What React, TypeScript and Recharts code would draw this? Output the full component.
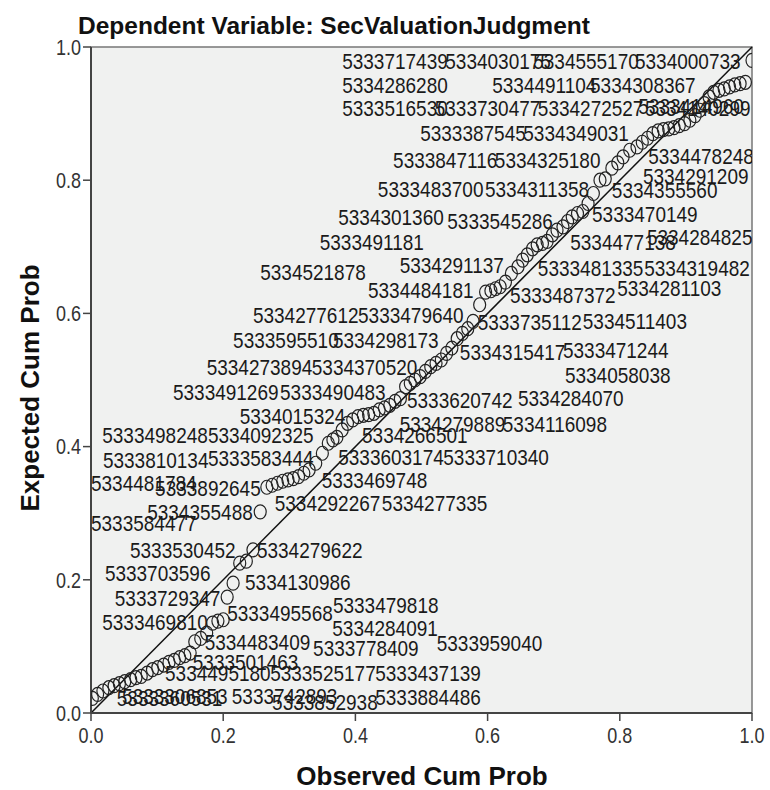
import React from "react";
import {
  ScatterChart,
  Scatter,
  XAxis,
  YAxis,
  ReferenceArea,
  ReferenceLine,
} from "recharts";

// P-P plot points (observed vs expected cumulative probability)
const observedCumProb = [
  0.002, 0.01, 0.018, 0.027, 0.035, 0.043, 0.051, 0.06, 0.068, 0.076, 0.085, 0.093, 0.101, 0.11, 0.118, 0.126, 0.134, 0.142, 0.15,
  0.157, 0.166, 0.175, 0.184, 0.192, 0.2, 0.206, 0.215, 0.225, 0.235, 0.245, 0.256,
  0.266, 0.274, 0.282, 0.29, 0.298, 0.306, 0.314, 0.322, 0.33, 0.34,
  0.35, 0.359, 0.366, 0.372, 0.38, 0.388, 0.396, 0.404, 0.412, 0.42,
  0.428, 0.436, 0.444, 0.452, 0.46, 0.468, 0.476, 0.483, 0.49, 0.498,
  0.506, 0.514, 0.522, 0.53, 0.538, 0.546, 0.554, 0.562, 0.57, 0.578,
  0.588, 0.597, 0.605, 0.612, 0.619, 0.627, 0.636, 0.646, 0.653, 0.66,
  0.668, 0.675, 0.683, 0.69, 0.698, 0.705, 0.714, 0.721, 0.728, 0.736,
  0.744, 0.752, 0.76, 0.77, 0.778, 0.788, 0.797, 0.805, 0.815, 0.826,
  0.834, 0.842, 0.85, 0.858, 0.866, 0.874, 0.882, 0.89, 0.898, 0.906,
  0.914, 0.921, 0.928, 0.935, 0.942, 0.95, 0.958, 0.966, 0.974, 0.982,
  0.99, 1.0,
];
const expectedCumProb = [
  0.022, 0.028, 0.033, 0.038, 0.041, 0.044, 0.047, 0.05, 0.053, 0.055, 0.06, 0.065, 0.068, 0.072, 0.076, 0.079, 0.083, 0.086, 0.09,
  0.107, 0.112, 0.12, 0.135, 0.138, 0.14, 0.174, 0.195, 0.225, 0.228, 0.245, 0.302,
  0.339, 0.342, 0.345, 0.348, 0.35, 0.352, 0.355, 0.36, 0.365, 0.375,
  0.39, 0.405, 0.41, 0.414, 0.425, 0.435, 0.44, 0.445, 0.447, 0.448,
  0.45, 0.455, 0.458, 0.462, 0.468, 0.472, 0.49, 0.495, 0.5, 0.505,
  0.513, 0.52, 0.525, 0.53, 0.54, 0.548, 0.562, 0.57, 0.577, 0.588,
  0.613, 0.632, 0.634, 0.637, 0.64, 0.647, 0.66, 0.67, 0.68, 0.688,
  0.697, 0.703, 0.705, 0.708, 0.718, 0.725, 0.73, 0.738, 0.745, 0.75,
  0.753, 0.765, 0.78, 0.8, 0.802, 0.818, 0.826, 0.835, 0.845, 0.85,
  0.857, 0.863, 0.87, 0.874, 0.876, 0.877, 0.879, 0.882, 0.885, 0.89,
  0.897, 0.905, 0.915, 0.925, 0.932, 0.935, 0.937, 0.94, 0.943, 0.945,
  0.947, 0.98,
];

// case id labels and where their text starts (data units)
const caseIds = [
  "5333717439", "5334030175", "5334555170", "5334000733",
  "5334286280", "5334491104", "5334308367",
  "5333516530", "5333730477", "5334272527", "5333414960", "5334140299",
  "5333387545", "5334349031",
  "5333847116", "5334325180", "5334478248", "5334291209",
  "5333483700", "5334311358", "5334355560",
  "5334301360", "5333545286", "5333470149",
  "5333491181", "5334477138", "5334284825",
  "5334521878", "5334291137", "5333481335", "5334319482",
  "5334484181", "5333487372", "5334281103",
  "5334277612", "5333479640", "5333735112", "5334511403",
  "5333595510", "5334298173", "5334315417", "5333471244",
  "5334273894", "5334370520", "5334058038",
  "5333491269", "5333490483", "5333620742", "5334284070",
  "5334015324", "5334279889", "5334116098",
  "5333498248", "5334092325", "5334266501",
  "5333810134", "5333583444", "5333603174", "5333710340",
  "5334481784", "5333892645", "5333469748",
  "5334292267", "5334277335", "5334355488", "5333584477",
  "5333530452", "5334279622", "5333703596", "5334130986",
  "5333729347", "5333479818", "5333495568", "5333469810", "5334284091",
  "5334483409", "5333778409", "5333959040",
  "5333501463", "5334495180", "5333525177", "5333437139",
  "5333360531", "5333306853", "5333742893", "5333852938", "5333884486",
];
const caseX = [
  0.38, 0.536, 0.669, 0.823,
  0.38, 0.607, 0.755,
  0.38, 0.52, 0.676, 0.828, 0.838,
  0.498, 0.654,
  0.457, 0.611, 0.843, 0.835,
  0.434, 0.596, 0.788,
  0.374, 0.539, 0.758,
  0.346, 0.725, 0.841,
  0.256, 0.467, 0.676, 0.837,
  0.419, 0.634, 0.796,
  0.245, 0.404, 0.585, 0.744,
  0.215, 0.366, 0.558, 0.714,
  0.175, 0.334, 0.717,
  0.124, 0.286, 0.478, 0.646,
  0.225, 0.467, 0.623,
  0.017, 0.177, 0.41,
  0.018, 0.177, 0.374, 0.533,
  0.0, 0.097, 0.349,
  0.278, 0.44, 0.085, 0.0,
  0.059, 0.251, 0.021, 0.233,
  0.036, 0.366, 0.206, 0.017, 0.365,
  0.172, 0.336, 0.523,
  0.154, 0.112, 0.271, 0.43,
  0.039, 0.047, 0.213, 0.274, 0.43,
];
const caseY = [
  0.98, 0.98, 0.98, 0.98,
  0.944, 0.944, 0.944,
  0.908, 0.908, 0.908, 0.911, 0.908,
  0.871, 0.871,
  0.83, 0.83, 0.836, 0.806,
  0.787, 0.787, 0.785,
  0.745, 0.739, 0.749,
  0.707, 0.707, 0.715,
  0.662, 0.673, 0.668, 0.668,
  0.635, 0.628, 0.638,
  0.598, 0.598, 0.587, 0.589,
  0.56, 0.56, 0.542, 0.545,
  0.52, 0.52, 0.508,
  0.482, 0.482, 0.47, 0.473,
  0.447, 0.435, 0.435,
  0.417, 0.417, 0.417,
  0.38, 0.383, 0.384, 0.384,
  0.345, 0.338, 0.35,
  0.315, 0.315, 0.302, 0.285,
  0.245, 0.245, 0.21, 0.197,
  0.173, 0.162, 0.15, 0.137, 0.128,
  0.107, 0.098, 0.105,
  0.077, 0.06, 0.06, 0.06,
  0.023, 0.026, 0.026, 0.017, 0.024,
];

const axisTicks = [0, 0.2, 0.4, 0.6, 0.8, 1];

const FONT = "'Liberation Sans', Arial, sans-serif";
const STRETCH = 1.2;

const points = observedCumProb.map((x, i) => ({ x, y: expectedCumProb[i] }));
const caseLabels = caseIds.map((id, i) => ({ x: caseX[i], y: caseY[i], id }));

function Ring(props: any) {
  const { cx, cy } = props;
  return (
    <ellipse cx={cx} cy={cy} rx={6} ry={7} fill="none" stroke="#222" strokeWidth={1.2} />
  );
}

function CaseText(props: any) {
  const { cx, cy, payload } = props;
  return (
    <text
      transform={`translate(${cx},${cy}) scale(1,${STRETCH})`}
      dy="0.36em"
      fontSize={19}
      fontFamily={FONT}
      fill="#1a1a1a"
    >
      {payload.id}
    </text>
  );
}

function XTick(props: any) {
  const { x, y, payload } = props;
  return (
    <g transform={`translate(${x},${y}) scale(1,${STRETCH})`}>
      <text textAnchor="middle" y={17} fontSize={18} fontFamily={FONT} fill="#333">
        {Number(payload.value).toFixed(1)}
      </text>
    </g>
  );
}

function YTick(props: any) {
  const { x, y, payload } = props;
  return (
    <g transform={`translate(${x},${y}) scale(1,${STRETCH})`}>
      <text textAnchor="end" dy="0.36em" fontSize={18} fontFamily={FONT} fill="#333">
        {Number(payload.value).toFixed(1)}
      </text>
    </g>
  );
}

export default function App() {
  return (
    <div style={{ position: "absolute", left: 0, top: 0, width: 770, height: 790, background: "#fff" }}>
      <div
        style={{
          position: "absolute",
          left: 78,
          top: 14,
          fontFamily: FONT,
          fontWeight: "bold",
          fontSize: 24.5,
          lineHeight: "24px",
          color: "#111",
          whiteSpace: "nowrap",
        }}
      >
        Dependent Variable: SecValuationJudgment
      </div>
      <ScatterChart
        width={770}
        height={790}
        margin={{ top: 47, right: 18, bottom: 47, left: 0 }}
      >
        <XAxis
          type="number"
          dataKey="x"
          domain={[0, 1]}
          ticks={axisTicks}
          allowDataOverflow
          height={30}
          tick={<XTick />}
          tickSize={8}
          axisLine={{ stroke: "#444", strokeWidth: 2 }}
          tickLine={{ stroke: "#444", strokeWidth: 1.5 }}
        />
        <YAxis
          type="number"
          dataKey="y"
          domain={[0, 1]}
          ticks={axisTicks}
          allowDataOverflow
          width={91}
          tick={<YTick />}
          tickSize={8}
          axisLine={{ stroke: "#444", strokeWidth: 2 }}
          tickLine={{ stroke: "#444", strokeWidth: 1.5 }}
        />
        <ReferenceArea
          x1={0}
          x2={1}
          y1={0}
          y2={1}
          fill="#f0f1f0"
          fillOpacity={1}
          stroke="#777"
          strokeWidth={1.5}
        />
        <ReferenceLine
          segment={[
            { x: 0, y: 0 },
            { x: 1, y: 1 },
          ]}
          stroke="#111"
          strokeWidth={1.5}
        />
        <Scatter data={caseLabels} shape={CaseText} isAnimationActive={false} />
        <Scatter data={points} shape={Ring} isAnimationActive={false} />
      </ScatterChart>
      <div
        style={{
          position: "absolute",
          left: 30,
          top: 388,
          transform: "translate(-50%, -50%) rotate(-90deg)",
          fontFamily: FONT,
          fontWeight: "bold",
          fontSize: 26,
          color: "#111",
          whiteSpace: "nowrap",
        }}
      >
        Expected Cum Prob
      </div>
      <div
        style={{
          position: "absolute",
          left: 422,
          top: 776,
          transform: "translate(-50%, -50%)",
          fontFamily: FONT,
          fontWeight: "bold",
          fontSize: 26,
          color: "#111",
          whiteSpace: "nowrap",
        }}
      >
        Observed Cum Prob
      </div>
    </div>
  );
}
